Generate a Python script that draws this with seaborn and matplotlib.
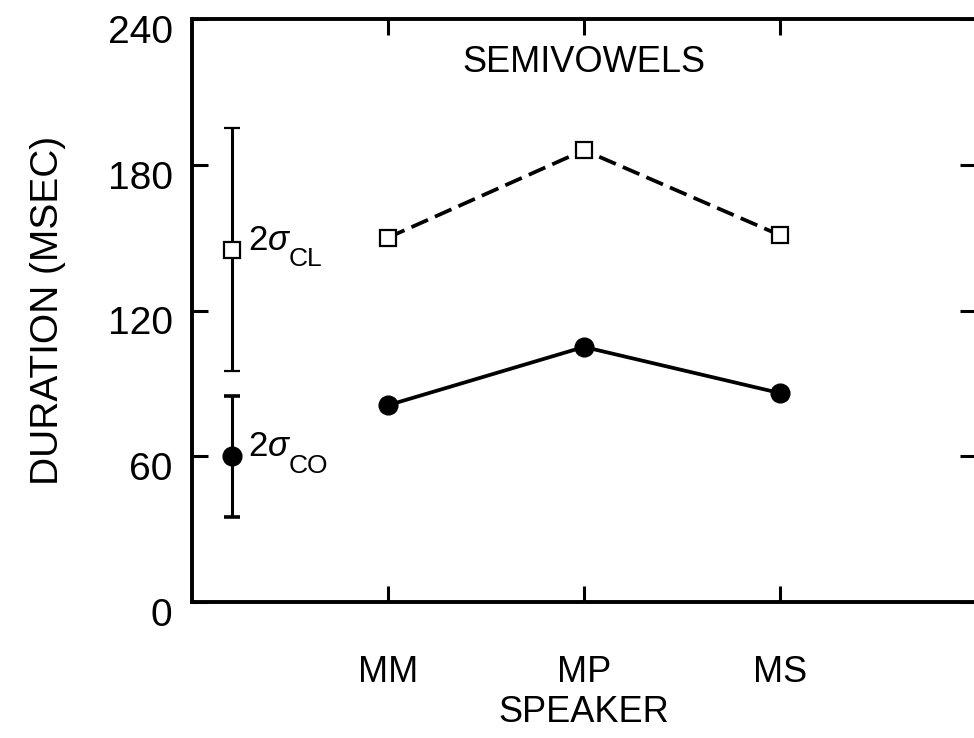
import matplotlib
matplotlib.use("Agg")
import matplotlib.pyplot as plt
import matplotlib.transforms as mtransforms
import seaborn as sns
import pandas as pd

# Mean durations (msec) per speaker for semivowels
speakers = ["MM", "MP", "MS"]
closure_ms = [150, 186, 151]     # open squares, dashed line
constriction_ms = [81, 105, 86]  # filled circles, solid line

# Reference 2-sigma bars (mean, half-width)
cl_mean, cl_half = 145, 50
co_mean, co_half = 60, 25

y_ticks = [0, 60, 120, 180, 240]

sns.set_style("ticks")
plt.rcParams["font.family"] = ["Liberation Sans", "DejaVu Sans"]
plt.rcParams["mathtext.fontset"] = "custom"
plt.rcParams["mathtext.rm"] = "Liberation Sans"
plt.rcParams["mathtext.it"] = "Liberation Sans:italic"
plt.rcParams["lines.scale_dashes"] = False
for key in ["text.color", "axes.labelcolor", "xtick.color", "ytick.color",
            "axes.edgecolor"]:
    plt.rcParams[key] = "black"

fig = plt.figure(figsize=(9.74, 7.38), dpi=100)
ax = fig.add_axes([192 / 974, 1 - 602 / 738, 784 / 974, (602 - 19) / 738])

df = pd.DataFrame({"speaker": speakers, "CL": closure_ms, "CO": constriction_ms})

sns.lineplot(data=df, x="speaker", y="CL", ax=ax, color="black", lw=2.7,
             marker="s", markersize=12, markerfacecolor="white",
             markeredgecolor="black", markeredgewidth=1.6, sort=False)
ax.lines[-1].set_dashes((13, 5.5))
sns.lineplot(data=df, x="speaker", y="CO", ax=ax, color="black", lw=2.7,
             marker="o", markersize=13.5, markerfacecolor="black",
             markeredgecolor="black", markeredgewidth=1, sort=False)

# 2-sigma reference bars at the left of the panel
bar_x = -0.796
ax.errorbar([bar_x], [cl_mean], yerr=[cl_half], fmt="s", ms=12,
            mfc="white", mec="black", mew=1.6, ecolor="black",
            elinewidth=2.2, capsize=6, capthick=2.6, zorder=3)
ax.errorbar([bar_x], [co_mean], yerr=[co_half], fmt="o", ms=13.5,
            mfc="black", mec="black", ecolor="black",
            elinewidth=2.2, capsize=6, capthick=2.6, zorder=3)

for mean, sub in [(cl_mean, "CL"), (co_mean, "CO")]:
    ax.annotate(r"2$\sigma$", (bar_x, mean), xytext=(11.5, 0),
                textcoords="offset points", fontsize=25,
                ha="left", va="baseline")
    ax.annotate(sub, (bar_x, mean), xytext=(41, -12),
                textcoords="offset points", fontsize=19,
                ha="left", va="baseline")

ax.set_xlim(-1, 3)
ax.set_ylim(0, 240)
ax.set_yticks(y_ticks)
ax.set_yticklabels([str(v) for v in y_ticks])

for side in ["top", "bottom", "left", "right"]:
    ax.spines[side].set_visible(True)
    ax.spines[side].set_linewidth(2.8)
    ax.spines[side].set_color("black")

ax.tick_params(axis="both", direction="in", length=11.5, width=2.2,
               top=True, right=True, colors="black")
ax.tick_params(axis="y", pad=14, labelsize=28)
ax.tick_params(axis="x", pad=38, labelsize=26)

# the y tick numbers sit slightly below their ticks
shift = mtransforms.ScaledTranslation(0, -0.10, fig.dpi_scale_trans)
for lbl in ax.get_yticklabels():
    lbl.set_transform(lbl.get_transform() + shift)

ax.set_xlabel("SPEAKER", fontsize=26, labelpad=4)
ax.set_ylabel("DURATION (MSEC)", fontsize=28)
ax.yaxis.label.set_va("center")
ax.yaxis.set_label_coords((48 - 192) / 784, 0.5)

ax.text(0.5, 1 - (62 - 19) / 583, "SEMIVOWELS", transform=ax.transAxes,
        ha="center", va="center", fontsize=26)

fig.savefig("out.png", dpi=100)
